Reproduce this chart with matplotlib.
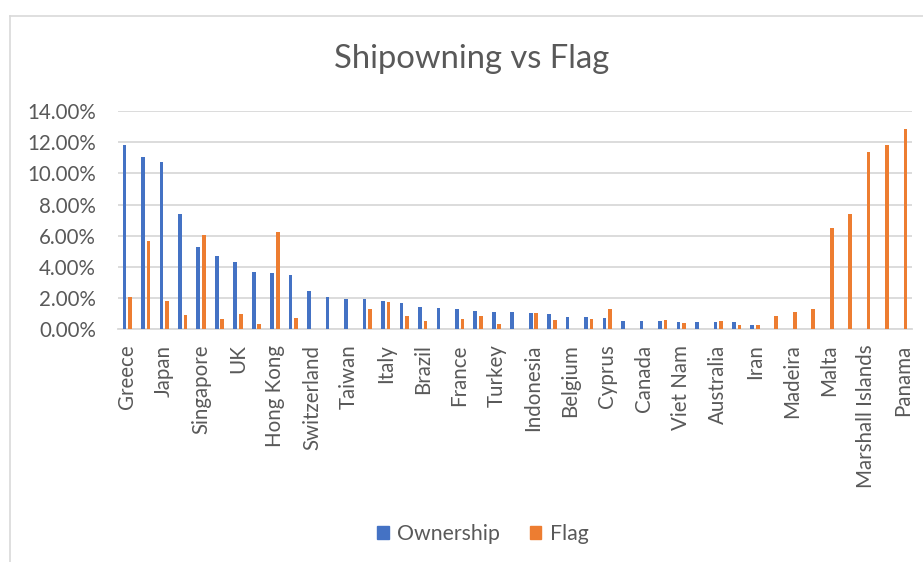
import numpy as np
import matplotlib.pyplot as plt
from matplotlib.lines import Line2D
from matplotlib.patches import Patch

# Categories (only every other name is shown on the axis, as in the original)
countries = ["Greece", "China", "Japan", "Germany", "Singapore", "Norway", "UK", "USA",
             "Hong Kong", "Korea", "Switzerland", "Denmark", "Taiwan", "Bermuda", "Italy",
             "India", "Brazil", "Netherlands", "France", "Russia", "Turkey", "Saudi Arabia",
             "Indonesia", "Malaysia", "Belgium", "Iran Rep.", "Cyprus", "UAE", "Canada",
             "Isle of Man", "Viet Nam", "Oman", "Australia", "Thailand", "Iran", "Portugal",
             "Madeira", "Bahamas", "Malta", "Bahamas II", "Marshall Islands", "Liberia", "Panama"]

# Shares of world fleet, in percent
ownership = [11.79, 11.02, 10.74, 7.37, 5.27, 4.67, 4.31, 3.66, 3.58, 3.47, 2.46, 2.08,
             1.97, 1.97, 1.82, 1.71, 1.41, 1.35, 1.29, 1.18, 1.13, 1.09, 1.03, 0.96,
             0.77, 0.77, 0.75, 0.55, 0.51, 0.51, 0.47, 0.47, 0.49, 0.49, 0.30, 0.03,
             0.03, 0.03, 0.03, 0.03, 0.03, 0.03, 0.03]
flag = [2.10, 5.68, 1.80, 0.90, 6.02, 0.64, 0.98, 0.34, 6.26, 0.73, 0.03, 0.03,
        0.03, 1.29, 1.74, 0.86, 0.53, 0.03, 0.66, 0.86, 0.34, 0.03, 1.03, 0.58,
        0.03, 0.64, 1.29, 0.03, 0.03, 0.60, 0.39, 0.03, 0.51, 0.30, 0.30, 0.86,
        1.11, 1.33, 6.49, 7.39, 11.38, 11.79, 12.84]

blue = "#4472C4"
orange = "#ED7D31"
text_col = "#595959"
grid_col = "#D9D9D9"

plt.rcParams['font.family'] = ['Lato', 'DejaVu Sans']

fig = plt.figure(figsize=(9.23, 5.62), dpi=100)
ax = fig.add_axes([118 / 923, 1 - 329.3 / 562, (912 - 118) / 923, (329.3 - 111) / 562])

x = np.arange(len(countries))
w = 0.2
ax.bar(x - 0.15, np.array(ownership) / 100, w, color=blue, zorder=3, label="Ownership")
ax.bar(x + 0.15, np.array(flag) / 100, w, color=orange, zorder=3, label="Flag")

ax.set_xlim(-0.5, len(countries) - 0.5)
ax.set_ylim(0, 0.14)
ax.set_yticks(np.arange(0, 0.141, 0.02))
ax.set_yticklabels([f"{v * 100:.2f}%" for v in np.arange(0, 0.141, 0.02)])
ax.set_xticks(x[::2])
ax.set_xticklabels(countries[::2], rotation=90)

ax.tick_params(axis='y', length=0, pad=16, labelsize=14.8, labelcolor=text_col)
ax.tick_params(axis='x', length=0, pad=11, labelsize=14.8, labelcolor=text_col)
ax.grid(axis='y', color=grid_col, linewidth=1.3, zorder=0)
for s in ["top", "right", "left"]:
    ax.spines[s].set_visible(False)
ax.spines["bottom"].set_color(grid_col)
ax.spines["bottom"].set_linewidth(1.3)

fig.text(471.5 / 923, 1 - 59 / 562, "Shipowning vs Flag", ha='center', va='center',
         fontsize=23.6, color=text_col)

handles = [Patch(color=blue), Patch(color=orange)]
fig.legend(handles, ["Ownership", "Flag"], loc='center', bbox_to_anchor=(0.523, 1 - 534 / 562),
           ncol=2, frameon=False, fontsize=15.3, labelcolor=text_col,
           handlelength=0.55, handleheight=0.55, handletextpad=0.4, columnspacing=1.4)

# chart border (top and left edges visible in the original)
fig.add_artist(Line2D([10 / 923, 1], [1 - 15.5 / 562] * 2, color="#D9D9D9", linewidth=1.2))
fig.add_artist(Line2D([10 / 923] * 2, [0, 1 - 15.5 / 562], color="#D9D9D9", linewidth=1.2))

fig.savefig("out.png", dpi=100, facecolor="white")
